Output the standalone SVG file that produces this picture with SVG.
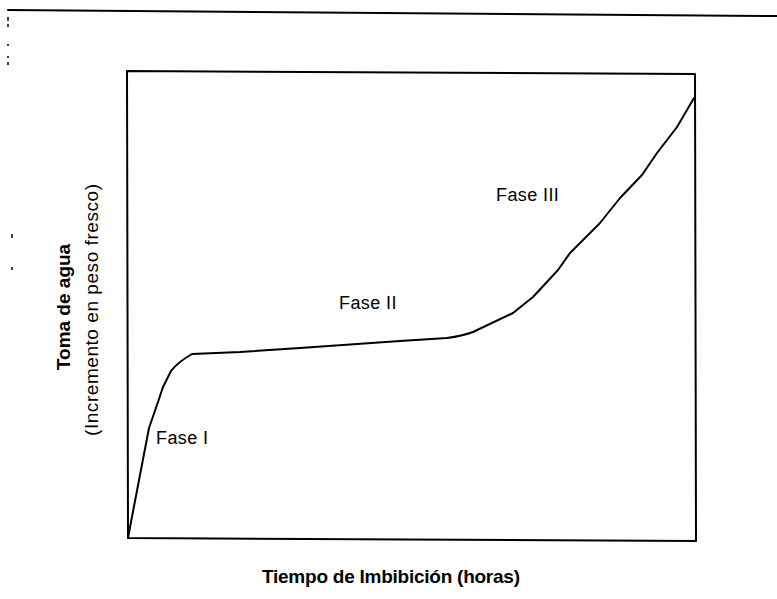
<svg xmlns="http://www.w3.org/2000/svg" width="777" height="599" viewBox="0 0 777 599">
<style>
.ln{fill:none;stroke:#000;stroke-width:2;stroke-linejoin:round;stroke-linecap:round}
.lbl{font-family:"Liberation Sans",Arial,sans-serif;font-size:18px;letter-spacing:0.4px;fill:#000}
.ax{font-family:"Liberation Sans",Arial,sans-serif;font-size:19px;fill:#000}
.tk{stroke:#000;stroke-width:1.5}
</style>
<rect width="777" height="599" fill="#fff"/>
<g id="scan-marks">
<path class="ln" d="M8,10 L777,16" stroke-width="1.5"/>
<line class="tk" x1="8" y1="17" x2="8" y2="21"/>
<line class="tk" x1="8" y1="24" x2="8" y2="27"/>
<line class="tk" x1="8" y1="44" x2="8" y2="46"/>
<line class="tk" x1="8" y1="56" x2="8" y2="58"/>
<line class="tk" x1="8" y1="62" x2="8" y2="65"/>
<line class="tk" x1="12" y1="234" x2="12" y2="238"/>
<line class="tk" x1="12" y1="267" x2="12" y2="270"/>
</g>
<g id="plot-frame">
<path class="ln" d="M127,71 L695,74 L696,541 L128,538 Z"/>
</g>
<g id="curve">
<path class="ln" d="M128,538 L131,522 L149,428 L158,402 L163,387 L171,371 Q178,362 192,354 L240,352 L300,348 L400,341 L447,338 Q462,336 473,332 L513,313 L533,297 L558,270 L570,253 L600,223 L620,198 L642,175 L657,153 L677,127 L694,98"/>
</g>
<g id="phase-labels">
<text class="lbl" x="156" y="444">Fase I</text>
<text class="lbl" x="339" y="309">Fase II</text>
<text class="lbl" x="496" y="201">Fase III</text>
</g>
<g id="axis-labels">
<text class="ax" x="391" y="583" text-anchor="middle" font-weight="bold" font-size="18.5" textLength="258">Tiempo de Imbibición (horas)</text>
<text class="ax" transform="translate(70,307) rotate(-90)" text-anchor="middle" font-weight="bold">Toma de agua</text>
<text class="ax" transform="translate(98,310) rotate(-90)" text-anchor="middle" textLength="252">(Incremento en peso fresco)</text>
</g>
</svg>
